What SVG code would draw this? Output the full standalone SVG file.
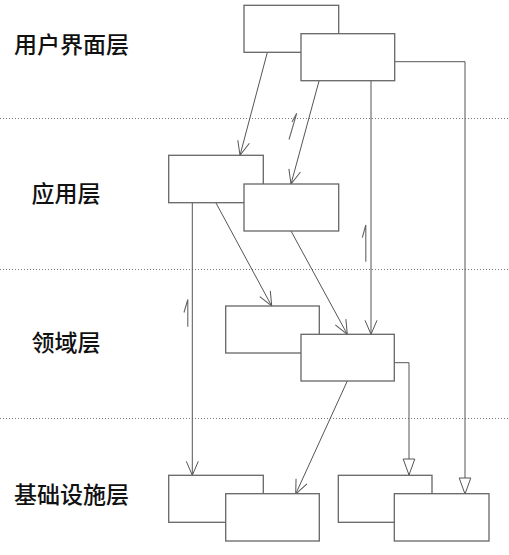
<svg xmlns="http://www.w3.org/2000/svg" width="509" height="555" viewBox="0 0 509 555">
<style>
.bg{fill:#ffffff}
.sep{stroke:#777;stroke-width:1.2;stroke-dasharray:1 2;fill:none}
.box{fill:#ffffff;stroke:#666;stroke-width:1.3}
.conn{stroke:#555;stroke-width:1;fill:none}
.mark{stroke:#666;stroke-width:1.1;fill:none}
.lbl{font-family:"Noto Sans CJK SC","Noto Sans",sans-serif;font-size:23px;font-weight:500;fill:#111}
</style>
<defs>
<marker id="open" viewBox="0 0 16 14" refX="15" refY="7" markerWidth="16" markerHeight="14" markerUnits="userSpaceOnUse" orient="auto">
<path d="M1,1 L15,7 L1,13" fill="none" stroke="#555" stroke-width="1"/>
</marker>
<marker id="tri" viewBox="0 0 18 14" refX="17" refY="7" markerWidth="18" markerHeight="14" markerUnits="userSpaceOnUse" orient="auto">
<path d="M1,1.2 L17,7 L1,12.8 Z" fill="#ffffff" stroke="#555" stroke-width="1"/>
</marker>
</defs>
<rect class="bg" x="0" y="0" width="509" height="555"/>
<g id="separators">
<line class="sep" x1="0" y1="118.5" x2="509" y2="118.5"/>
<line class="sep" x1="0" y1="269.5" x2="509" y2="269.5"/>
<line class="sep" x1="0" y1="418.5" x2="509" y2="418.5"/>
</g>
<g id="labels">
<text class="lbl" x="14" y="53">用户界面层</text>
<text class="lbl" x="31.5" y="201.5">应用层</text>
<text class="lbl" x="31.5" y="351">领域层</text>
<text class="lbl" x="14" y="503">基础设施层</text>
</g>
<g id="connectors">
<line class="conn" x1="267.3" y1="52.5" x2="240" y2="155.3" marker-end="url(#open)"/>
<line class="conn" x1="319" y1="81" x2="291" y2="184" marker-end="url(#open)"/>
<line class="conn" x1="192.3" y1="203" x2="192.3" y2="475.3" marker-end="url(#open)"/>
<line class="conn" x1="216" y1="203" x2="271.7" y2="306" marker-end="url(#open)"/>
<line class="conn" x1="291" y1="231" x2="347.3" y2="334.3" marker-end="url(#open)"/>
<line class="conn" x1="371" y1="81" x2="371" y2="334.3" marker-end="url(#open)"/>
<line class="conn" x1="347.3" y1="381" x2="295.7" y2="494" marker-end="url(#open)"/>
<polyline class="conn" points="394.5,362.7 409,362.7 409,475" marker-end="url(#tri)"/>
<polyline class="conn" points="395,61.7 465,61.7 465,494" marker-end="url(#tri)"/>
</g>
<g id="marks">
<path class="mark" d="M289,139.5 L296.7,113.3 L292,122"/>
<path class="mark" d="M365.8,261.7 L365.8,225 L362.3,237.7"/>
<path class="mark" d="M187.8,326.7 L187.8,299.5 L184,312.5"/>
</g>
<g id="node-ui-1"><rect class="box" x="244" y="5.3" width="94.7" height="47"/></g>
<g id="node-ui-2"><rect class="box" x="301" y="33.7" width="93.7" height="47"/></g>
<g id="node-app-1"><rect class="box" x="168.7" y="155.3" width="94.6" height="47.4"/></g>
<g id="node-app-2"><rect class="box" x="244" y="184" width="94.7" height="47"/></g>
<g id="node-domain-1"><rect class="box" x="225.7" y="306" width="93.6" height="47"/></g>
<g id="node-domain-2"><rect class="box" x="301" y="334.3" width="93.3" height="46.7"/></g>
<g id="node-infra-1"><rect class="box" x="168.7" y="475.3" width="94.6" height="47"/></g>
<g id="node-infra-2"><rect class="box" x="225.7" y="493.7" width="93.6" height="47.3"/></g>
<g id="node-infra-3"><rect class="box" x="338.3" y="475.3" width="93.7" height="47"/></g>
<g id="node-infra-4"><rect class="box" x="394.3" y="493.7" width="94.7" height="47.3"/></g>
</svg>
